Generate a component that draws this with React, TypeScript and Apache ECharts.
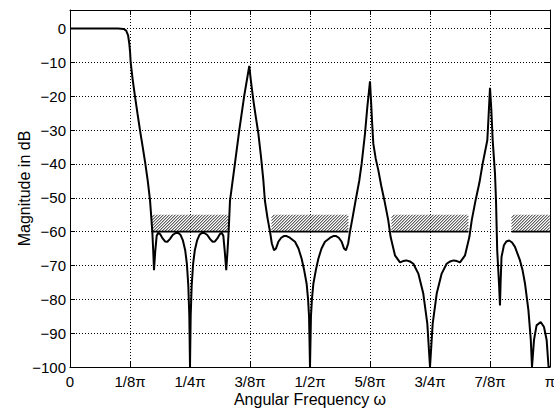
import React, { useEffect, useRef } from 'react';
import * as echarts from 'echarts';

// Normalised angular frequency (omega / pi)
const freq = [
  0, 0.05, 0.1, 0.112, 0.117, 0.121, 0.1236, 0.1252, 0.1264, 0.1305, 0.1354, 0.1405, 0.1458, 0.1515, 0.157, 0.162, 0.1667, 0.1715, 0.1735, 0.175,
  0.1775, 0.1806, 0.184, 0.188, 0.193, 0.198, 0.2028, 0.208, 0.214, 0.22, 0.225, 0.23, 0.235, 0.24, 0.2435, 0.2465, 0.2486, 0.25,
  0.2514, 0.2535, 0.2565, 0.26, 0.265, 0.27, 0.275, 0.28, 0.286, 0.292, 0.2972, 0.302, 0.307, 0.312, 0.316, 0.3194, 0.3225, 0.3255,
  0.328, 0.3305, 0.3333, 0.3435, 0.3527, 0.3628, 0.3735,
  0.3765, 0.382, 0.387, 0.3924, 0.398, 0.4028, 0.406, 0.4115, 0.4167, 0.4205, 0.425, 0.429, 0.434, 0.44, 0.4455, 0.4514,
  0.458, 0.4688, 0.476, 0.4826, 0.488, 0.493, 0.496, 0.498, 0.5,
  0.502, 0.504, 0.507, 0.512, 0.5174, 0.524, 0.5312, 0.542, 0.5486, 0.5545, 0.56, 0.566, 0.571, 0.575, 0.5795, 0.5833, 0.5885, 0.595,
  0.6028, 0.6076, 0.6146, 0.6194, 0.625, 0.6271, 0.6295, 0.6319, 0.637, 0.6424, 0.6485, 0.6549, 0.663, 0.668, 0.677, 0.6875,
  0.694, 0.701, 0.708, 0.7153, 0.7257, 0.736, 0.7444, 0.75,
  0.7556, 0.764, 0.7743, 0.7847, 0.792, 0.799, 0.806, 0.8125, 0.823, 0.832, 0.837, 0.845,
  0.853, 0.8597, 0.8694, 0.872, 0.875, 0.8778, 0.8806, 0.8854, 0.8875, 0.89, 0.8938, 0.8958,
  0.897, 0.899, 0.904, 0.909, 0.915, 0.921, 0.927, 0.9375, 0.943, 0.948, 0.955, 0.96, 0.9625,
  0.9667, 0.972, 0.9806, 0.9875, 0.993, 0.997, 1.0,
];

// Magnitude in dB
const magDb = [
  0, 0, 0, -0.1, -0.6, -2, -4.5, -7, -10, -15, -20, -25, -30, -35, -40, -45, -50.7, -60, -66, -71.4,
  -66, -61.2, -60.3, -60.8, -62, -62.9, -63, -62.2, -61, -60.4, -60.3, -60.9, -62.5, -65.5, -69.5, -76, -85, -100,
  -85, -76, -69.5, -65.5, -62.5, -60.9, -60.3, -60.4, -61, -62.2, -63, -62.9, -62, -60.8, -60.3, -61.2, -66, -71.4,
  -66, -60, -50.9, -40, -30, -20, -11,
  -15, -21.2, -26, -31, -38, -44.8, -50.8, -56, -60, -63.5, -65.5, -65, -63, -61.8, -61.3, -61.3,
  -61.8, -63, -65, -68, -71.5, -75.4, -80, -85, -100,
  -85, -80, -75.4, -71.5, -68, -65, -63, -61.8, -61.3, -61.3, -61.8, -63, -65, -65.5, -63.5, -60, -56, -50.8,
  -44.8, -39.9, -31, -23.2, -15.6, -21.2, -28, -34, -38.5, -41.9, -46.5, -50.7, -56.6, -61.6, -67, -69.1,
  -68.7, -68.5, -68.8, -69.5, -72.4, -78.3, -87.2, -100,
  -87.2, -78.3, -72.4, -69.5, -68.8, -68.5, -68.7, -69.1, -67, -61.6, -56.6, -50.7,
  -45.5, -39.9, -33, -26, -17.5, -24.1, -33, -42.8, -50.8, -65.5, -75.4, -81.8,
  -75.4, -67.5, -64, -62.9, -62.6, -63.2, -64.5, -68.5, -71.5, -75.4, -83.2, -92, -100,
  -92, -87.7, -86.7, -88.2, -92, -100, -100,
];

// Stopband specification regions (omega / pi)
const stopbandStart = [0.17, 0.42, 0.67, 0.92];
const stopbandEnd = [0.33, 0.58, 0.83, 1.0];
const stopbandLevel = -60;
const hatchTop = -55;

const xTickValues = [0, 0.125, 0.25, 0.375, 0.5, 0.625, 0.75, 0.875, 1];
const xTickLabels = ['0', '1/8\u03c0', '1/4\u03c0', '3/8\u03c0', '1/2\u03c0', '5/8\u03c0', '3/4\u03c0', '7/8\u03c0', '\u03c0'];
const yTickValues = [0, -10, -20, -30, -40, -50, -60, -70, -80, -90, -100];
const yTickLabels = ['0', '\u221210', '\u221220', '\u221230', '\u221240', '\u221250', '\u221260', '\u221270', '\u221280', '\u221290', '\u2212100'];

const FONT = "'Liberation Sans', Arial, Helvetica, sans-serif";

export default function App() {
  const ref = useRef<HTMLDivElement>(null);

  useEffect(() => {
    if (!ref.current) return;
    const chart = echarts.init(ref.current, null, { renderer: 'svg' });

    const lineData = freq.map((f, i) => [f, magDb[i]]);
    const hatchData = stopbandStart.map((s, i) => [s, stopbandEnd[i], stopbandLevel, hatchTop]);

    const xLabel = (v: number) => {
      const idx = xTickValues.findIndex((t) => Math.abs(t - v) < 1e-9);
      return idx >= 0 ? xTickLabels[idx] : '';
    };
    const yLabel = (v: number) => {
      const idx = yTickValues.findIndex((t) => Math.abs(t - v) < 1e-9);
      return idx >= 0 ? yTickLabels[idx] : '';
    };

    const common = {
      axisLine: { show: true, onZero: false, lineStyle: { color: '#000', width: 1 } },
      axisTick: { show: true, inside: true, length: 5, lineStyle: { color: '#000', width: 1 } },
    };

    const option: any = {
      animation: false,
      backgroundColor: '#fff',
      textStyle: { fontFamily: FONT },
      grid: { left: 70, right: 4, top: 10, bottom: 41, containLabel: false, outerBoundsMode: 'none' },
      xAxis: [
        {
          type: 'value',
          position: 'bottom',
          min: 0,
          max: 1,
          interval: 0.125,
          ...common,
          axisLabel: { formatter: xLabel, color: '#000', fontSize: 15, fontFamily: FONT, margin: 7, hideOverlap: false },
          splitLine: { show: true, lineStyle: { color: '#000', width: 1, type: [1, 2] } },
          name: 'Angular Frequency \u03c9',
          nameLocation: 'middle',
          nameGap: 24,
          nameMoveOverlap: false,
          nameTextStyle: { color: '#000', fontSize: 16, fontFamily: FONT },
        },
        {
          type: 'value',
          position: 'top',
          min: 0,
          max: 1,
          interval: 0.125,
          ...common,
          axisLabel: { show: false },
          splitLine: { show: false },
        },
      ],
      yAxis: [
        {
          type: 'value',
          position: 'left',
          min: -100,
          max: 5.5,
          interval: 10,
          ...common,
          axisLabel: { formatter: yLabel, color: '#000', fontSize: 15, fontFamily: FONT, margin: 4, showMaxLabel: false },
          splitLine: { show: true, lineStyle: { color: '#000', width: 1, type: [1, 2] } },
          name: 'Magnitude in dB',
          nameLocation: 'middle',
          nameGap: 38,
          nameMoveOverlap: false,
          nameTextStyle: { color: '#000', fontSize: 16, fontFamily: FONT },
        },
        {
          type: 'value',
          position: 'right',
          min: -100,
          max: 5.5,
          interval: 10,
          ...common,
          axisLabel: { show: false },
          splitLine: { show: false },
        },
      ],
      series: [
        {
          type: 'custom',
          xAxisIndex: 0,
          yAxisIndex: 0,
          data: hatchData,
          encode: { x: [0, 1], y: [2, 3] },
          z: 2,
          silent: true,
          renderItem: (_params: any, api: any) => {
            const x0 = api.value(0);
            const x1 = api.value(1);
            const bottomVal = api.value(2);
            const topVal = api.value(3);
            const pTL = api.coord([x0, topVal]);
            const pBR = api.coord([x1, bottomVal]);
            const left = pTL[0];
            const top = pTL[1];
            const right = pBR[0];
            const bottom = pBR[1];
            const h = bottom - top;
            const step = 3;
            const children: any[] = [];
            for (let t = left - h; t < right; t += step) {
              let xs = t;
              let ys = bottom;
              let xe = t + h;
              let ye = top;
              if (xs < left) {
                ys = bottom - (left - xs);
                xs = left;
              }
              if (xe > right) {
                ye = top + (xe - right);
                xe = right;
              }
              if (xe <= xs) continue;
              children.push({
                type: 'line',
                shape: { x1: xs, y1: ys, x2: xe, y2: ye },
                style: { stroke: '#1a1a1a', lineWidth: 1 },
              });
            }
            children.push({
              type: 'line',
              shape: { x1: left, y1: bottom, x2: right, y2: bottom },
              style: { stroke: '#000', lineWidth: 1.6 },
            });
            return { type: 'group', children };
          },
        },
        {
          type: 'line',
          xAxisIndex: 0,
          yAxisIndex: 0,
          data: lineData,
          showSymbol: false,
          symbol: 'none',
          smooth: false,
          z: 3,
          lineStyle: { color: '#000', width: 2 },
          silent: true,
        },
      ],
    };

    chart.setOption(option);
    return () => chart.dispose();
  }, []);

  return <div ref={ref} style={{ position: 'fixed', left: 0, top: 0, width: 554, height: 408 }} />;
}
